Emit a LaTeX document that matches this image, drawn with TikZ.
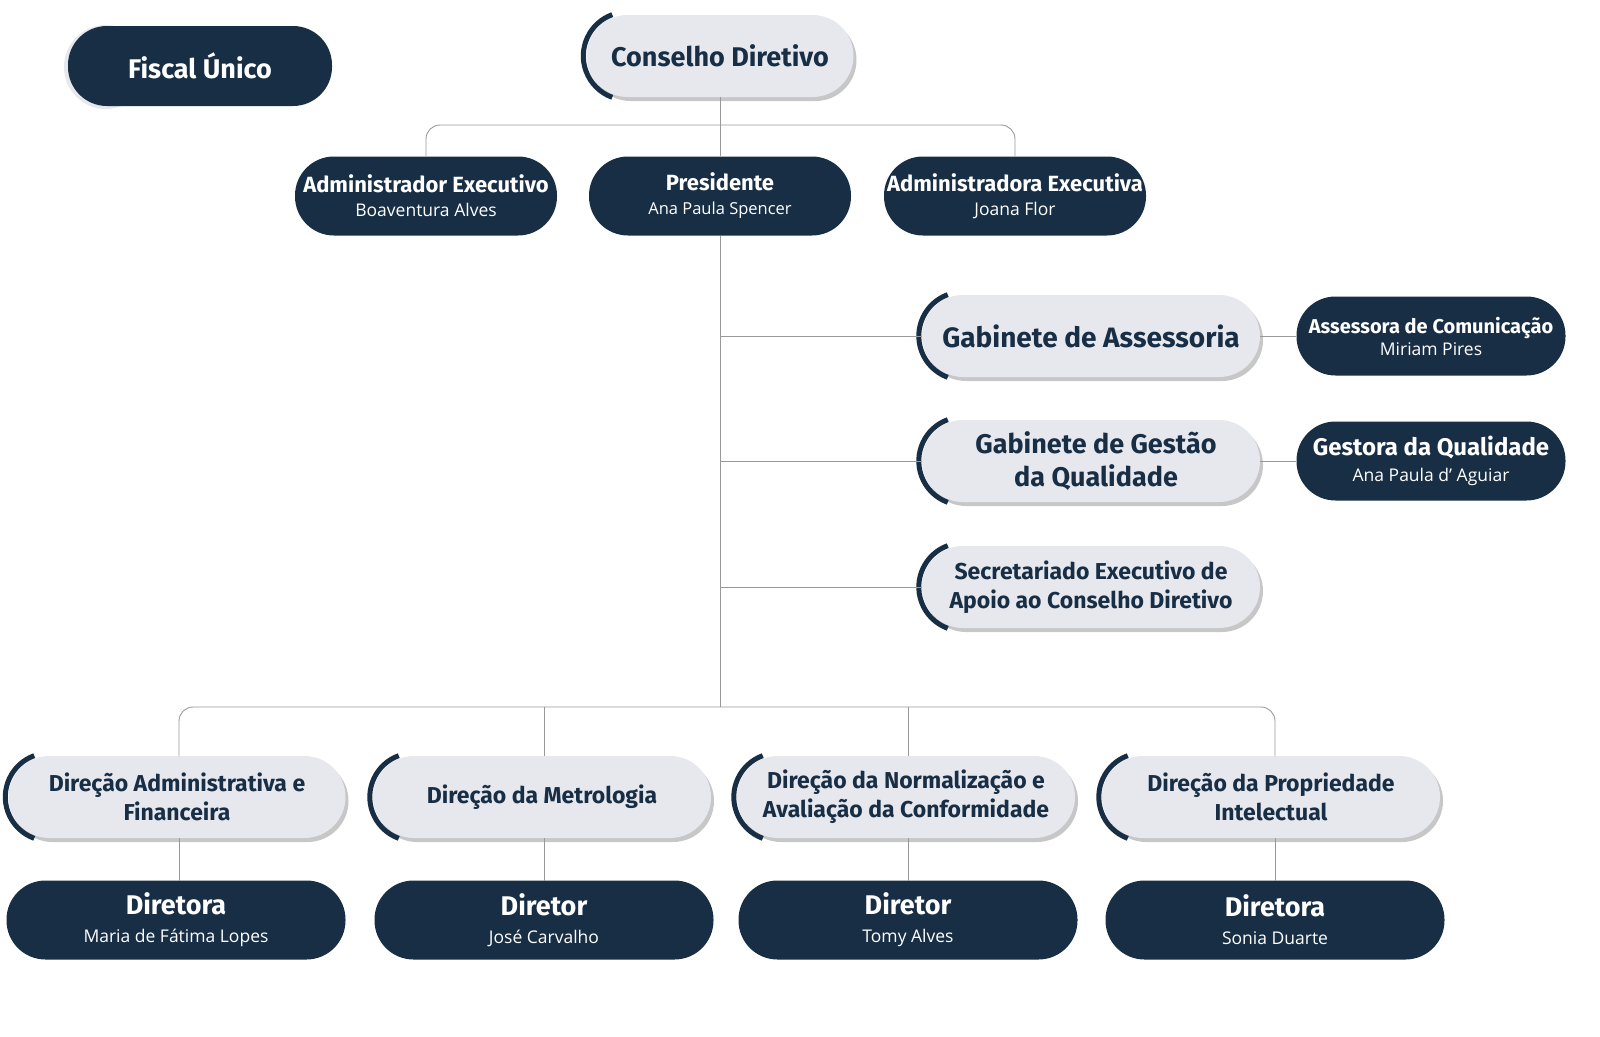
\documentclass[tikz,border=0pt]{standalone}
\usepackage{fontspec}
\setmainfont{Fira Sans}
\newfontfamily\namefont{Open Sans}
\newcommand\nm{\namefont\fontsize{17.5}{20}\selectfont\mdseries}
\definecolor{dk}{HTML}{172E45}
\definecolor{lt}{HTML}{E6E8EE}
\newcommand\lnode[6]{%
  \fill[black!22,rounded corners=41pt] ({#2-#4/2+3},{#3-41+4}) rectangle ({#2+#4/2+3},{#3+41+4});
  \node[light,minimum width=#4pt,font=#5] (#1) at (#2,#3) {#6};
  \draw[dk,line width=5pt] ([xshift=41pt]#1.west) ++(110:44pt) arc[start angle=110,end angle=250,radius=44pt];}
\begin{document}
\begin{tikzpicture}[x=1pt,y=-1pt,
  base/.style={rectangle,rounded corners=39pt,minimum height=80pt,align=center,inner sep=0pt},
  dark/.style={base,fill=dk,text=white,font=\fontsize{22}{25}\selectfont\bfseries},
  light/.style={base,fill=lt,text=dk,rounded corners=41pt,minimum height=82pt},
  ln/.style={draw=gray!80,line width=0.9pt,rounded corners=14pt}]
\useasboundingbox (0,0) rectangle (1600,1036);
% Fiscal
\fill[lt] (106,67) circle (42pt);
\node[dark,minimum width=264pt,font=\fontsize{27}{30}\selectfont\bfseries] (fis) at (200,66) {Fiscal Único};
\lnode{cd}{720}{56}{267}{\fontsize{27}{30}\selectfont\bfseries}{Conselho Diretivo}
\node[dark,minimum width=262pt,minimum height=79pt] (ae) at (426,196) {Administrador Executivo\\[-1pt]{\nm Boaventura Alves}};
\node[dark,minimum width=262pt,minimum height=79pt] (pr) at (720,196) {Presidente\\[-1pt]{\namefont\fontsize{16.5}{19}\selectfont\mdseries Ana Paula Spencer}};
\node[dark,minimum width=262pt,minimum height=79pt] (ax) at (1015,196) {Administradora Executiva\\[-1pt]{\nm Joana Flor}};
\lnode{ga}{1091}{336}{338}{\fontsize{28}{32}\selectfont\bfseries}{Gabinete de Assessoria}
\lnode{gq}{1091}{461}{338}{\fontsize{27}{33}\selectfont\bfseries}{\hspace{10pt}Gabinete de Gestão\\\hspace{10pt}da Qualidade}
\lnode{se}{1091}{587}{338}{\fontsize{23}{29}\selectfont\bfseries}{Secretariado Executivo de\\Apoio ao Conselho Diretivo}
\node[dark,minimum width=269pt,minimum height=79pt,font=\fontsize{20}{23}\selectfont\bfseries] (ac) at (1431,336) {Assessora de Comunicação\\[-1pt]{\nm Miriam Pires}};
\node[dark,minimum width=269pt,minimum height=79pt,font=\fontsize{24}{27}\selectfont\bfseries] (gd) at (1431,461) {Gestora da Qualidade\\[-1pt]{\nm Ana Paula d’ Aguiar}};
% bottom
\lnode{d1}{177}{797}{337}{\fontsize{23}{29}\selectfont\bfseries}{Direção Administrativa e\\Financeira}
\lnode{d2}{542}{797}{338}{\fontsize{23}{29}\selectfont\bfseries}{Direção da Metrologia}
\lnode{d3}{906}{797}{338}{\fontsize{23}{29}\selectfont\bfseries}{Direção da Normalização e\\Avaliação da Conformidade}
\lnode{d4}{1271}{797}{338}{\fontsize{23}{29}\selectfont\bfseries}{Direção da Propriedade\\Intelectual}
\tikzset{bd/.style={dark,minimum width=339pt,minimum height=79pt,font=\fontsize{27}{29}\selectfont\bfseries}}
\node[bd] (p1) at (176,920) {Diretora\\[-1pt]{\nm Maria de Fátima Lopes}};
\node[bd] (p2) at (544,920) {Diretor\\[-1pt]{\nm José Carvalho}};
\node[bd] (p3) at (908,920) {Diretor\\[-1pt]{\nm Tomy Alves}};
\node[bd] (p4) at (1275,920) {Diretora\\[-1pt]{\nm Sonia Duarte}};
% connectors
\coordinate (t) at (720,125);
\coordinate (b) at (720,707);
\draw[ln] (cd.south) -- (pr.north);
\draw[ln] (ae.north) |- (t) -| (ax.north);
\draw[ln] (pr.south) -- (b);
\draw[ln] (720,336) -- (ga.west);
\draw[ln] (720,461) -- (gq.west);
\draw[ln] (720,587) -- (se.west);
\draw[ln] (ga.east) -- (ac.west);
\draw[ln] (gq.east) -- (gd.west);
\draw[ln] (179,756) |- (b) -| (1275,756);
\draw[ln] (544,707) -- (544,756);
\draw[ln] (908,707) -- (908,756);
\draw[ln] (179,838) -- (179,881);
\draw[ln] (544,838) -- (544,881);
\draw[ln] (908,838) -- (908,881);
\draw[ln] (1275,838) -- (1275,881);
\end{tikzpicture}
\end{document}
